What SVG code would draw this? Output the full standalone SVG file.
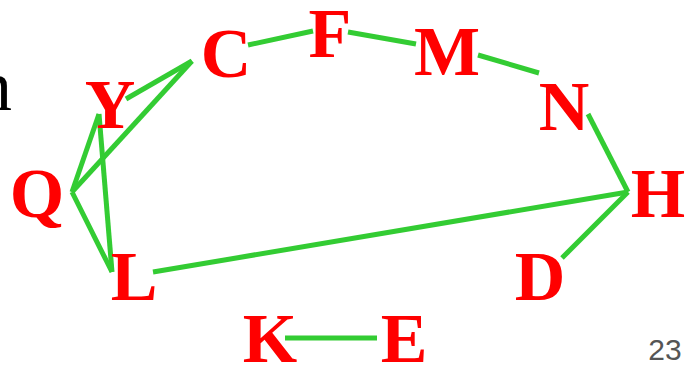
<svg xmlns="http://www.w3.org/2000/svg" width="697" height="365" viewBox="0 0 697 365">
<style>
.n{font-family:"Liberation Serif","Times New Roman",serif;font-weight:bold;font-size:70px;fill:#ff0000;text-anchor:middle}
.e{stroke:#33cc33;stroke-width:5;fill:none;stroke-linecap:butt}
</style>
<rect width="697" height="365" fill="#ffffff"/>
<text x="-24" y="110" font-family="Liberation Serif, serif" font-size="72" fill="#000000">n</text>
<g id="connectors">
<line class="e" x1="248" y1="45" x2="313" y2="31"/>
<line class="e" x1="348" y1="32" x2="416" y2="44"/>
<line class="e" x1="478" y1="55" x2="539" y2="73"/>
<line class="e" x1="588" y1="114" x2="628" y2="192"/>
<line class="e" x1="628" y1="192" x2="562" y2="258"/>
<line class="e" x1="628" y1="192" x2="153" y2="272"/>
<line class="e" x1="126" y1="99" x2="192" y2="61"/>
<line class="e" x1="192" y1="61" x2="72" y2="192"/>
<line class="e" x1="72" y1="192" x2="99" y2="114"/>
<line class="e" x1="99" y1="114" x2="112" y2="272"/>
<line class="e" x1="72" y1="192" x2="112" y2="272"/>
<line class="e" x1="285" y1="338" x2="377" y2="338"/>
</g>
<g id="node-C"><text class="n" x="226" y="77">C</text></g>
<g id="node-F"><text class="n" x="330" y="57">F</text></g>
<g id="node-M"><text class="n" x="447" y="75">M</text></g>
<g id="node-N"><text class="n" x="564" y="130">N</text></g>
<g id="node-H"><text class="n" x="658" y="217">H</text></g>
<g id="node-D"><text class="n" x="540" y="300">D</text></g>
<g id="node-Y"><text class="n" x="110" y="128">Y</text></g>
<g id="node-Q"><text class="n" x="37" y="217">Q</text></g>
<g id="node-L"><text class="n" x="134" y="300">L</text></g>
<g id="node-K"><text class="n" x="270" y="362">K</text></g>
<g id="node-E"><text class="n" x="404" y="362">E</text></g>
<text x="665" y="360" font-family="Liberation Sans, Arial, sans-serif" font-size="30" fill="#555555" text-anchor="middle">23</text>
</svg>
